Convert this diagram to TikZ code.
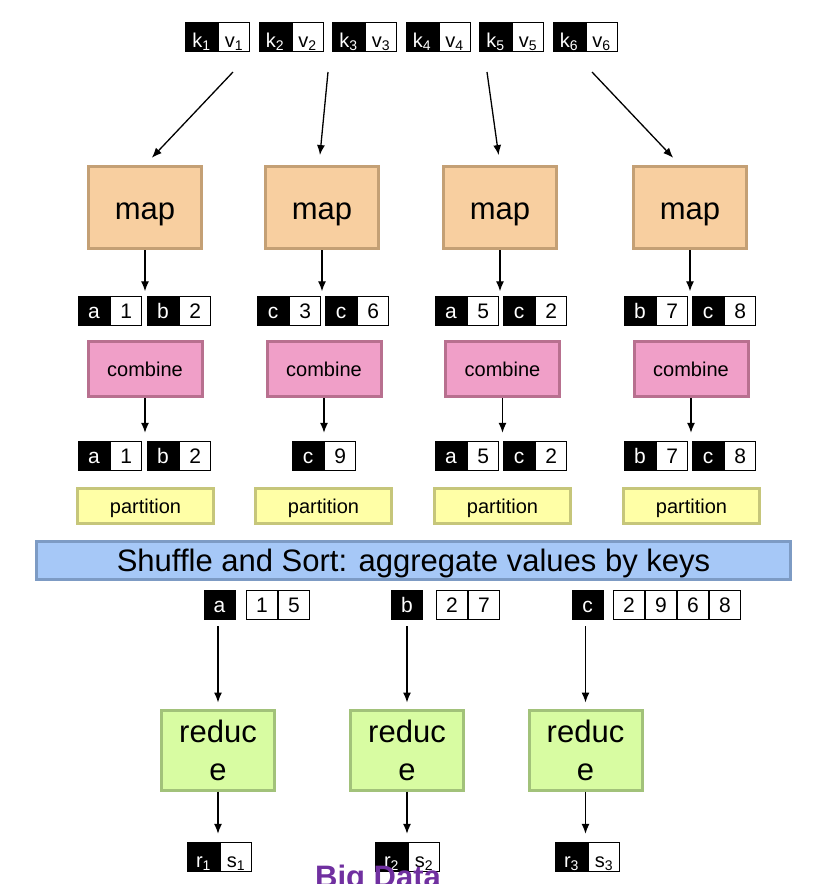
\documentclass[tikz,border=0pt]{standalone}
\usepackage{fontspec}
\setmainfont{Liberation Sans}
\usetikzlibrary{arrows.meta,positioning}
\definecolor{mapfill}{HTML}{F8CFA0}
\definecolor{mapline}{HTML}{C4A075}
\definecolor{combfill}{HTML}{F09FC8}
\definecolor{combline}{HTML}{B8708F}
\definecolor{partfill}{HTML}{FFFFA6}
\definecolor{partline}{HTML}{C6C67A}
\definecolor{shuffill}{HTML}{A6C8F7}
\definecolor{shufline}{HTML}{7D9BC4}
\definecolor{redfill}{HTML}{D8FCA2}
\definecolor{redline}{HTML}{A2C27A}
\definecolor{bigpurple}{HTML}{7030A0}

\begin{document}
\begin{tikzpicture}[x=1pt,y=-1pt,>={Latex[length=10pt,width=8pt]},
  kbox/.style={fill=black,text=white,minimum width=32pt,minimum height=30pt,inner sep=0pt,text height=15pt,text depth=0pt,font=\fontsize{21}{24}\selectfont},
  vbox/.style={draw=black,line width=0.8pt,fill=white,minimum width=31pt,minimum height=29pt,inner sep=0pt,text height=15pt,text depth=0pt,font=\fontsize{21}{24}\selectfont},
  subkv/.style={font=\fontsize{20}{22}\selectfont,text height=20pt},
  stage/.style={draw,line width=3pt,inner sep=0pt,align=center},
  bigtxt/.style={font=\fontsize{31}{36}\selectfont,text height=31pt,text depth=8pt},
  smalltxt/.style={font=\fontsize{20}{24}\selectfont,text height=20pt,text depth=5pt},
  flow/.style={->,line width=1.3pt}]
  \path[use as bounding box,clip] (0,0) rectangle (814,884);
  % ---------- input pairs
  \foreach \i in {1,...,6} {
    \node[kbox,subkv,minimum width=33pt] (k\i) at ({201.5+73.5*(\i-1)},37) {k\textsubscript{\i}};
    \node[vbox,subkv,right=0pt of k\i] (v\i) {v\textsubscript{\i}};
  }
  % ---------- map
  \foreach \x [count=\i] in {145,322,500,690}
    \node[stage,bigtxt,draw=mapline,fill=mapfill,minimum width=113pt,minimum height=82pt] (m\i) at (\x,207.5) {map};
  \foreach \i/\x/\d in {1/233/0,2/328/-3,3/487/0,4/592/-10} {
    \coordinate (s\i) at (\x,72);
    \draw[flow,shorten >=10pt] (s\i) -- ([xshift=\d]m\i.north);
  }
  % ---------- map output
  \foreach \k/\v/\x [count=\i] in {a/1/78,b/2/147,c/3/257,c/6/325,a/5/435,c/2/503,b/7/624,c/8/692} {
    \node[kbox] (ka\i) at (\x+16,310.5) {\k};
    \node[vbox,right=0pt of ka\i] (va\i) {\v};
  }
  \foreach \i/\j in {1/1,2/3,3/5,4/7} \draw[flow,shorten >=4pt] (m\i) -- (m\i |- ka\j.north);
  % ---------- combine
  \foreach \x [count=\i] in {145,324,502.5,691}
    \node[stage,smalltxt,draw=combline,fill=combfill,minimum width=114pt,minimum height=55pt] (c\i) at (\x,369) {combine};
  \foreach \k/\v/\x [count=\i] in {a/1/78,b/2/147,c/9/292,a/5/435,c/2/503,b/7/624,c/8/692} {
    \node[kbox] (kb\i) at (\x+16,456) {\k};
    \node[vbox,right=0pt of kb\i] (vb\i) {\v};
  }
  \foreach \i/\j in {1/1,2/3,3/4,4/6} \draw[flow,shorten >=8pt] (c\i) -- (c\i |- kb\j.north);
  % ---------- partition + shuffle
  \foreach \x [count=\i] in {145.5,323.5,502.5,691.5}
    \node[stage,smalltxt,draw=partline,fill=partfill,minimum width=136pt,minimum height=35pt] (pt\i) at (\x,506) {partition};
  \node[stage,bigtxt,text height=29pt,draw=shufline,fill=shuffill,minimum width=754pt,minimum height=38pt] (shuf) at (413.5,560.5) {Shuffle and Sort: aggregate values by keys};
  % ---------- grouped values
  \foreach \g/\x in {a/219.5,b/407,c/587.5} \node[kbox] (g\g) at (\x,605) {\g};
  \foreach \v/\x [count=\j] in {1/262,5/294} \node[vbox] (ga\j) at (\x,605) {\v};
  \foreach \v/\x [count=\j] in {2/452,7/484} \node[vbox] (gb\j) at (\x,605) {\v};
  \foreach \v/\x [count=\j] in {2/629,9/661,6/693,8/725} \node[vbox] (gc\j) at (\x,605) {\v};
  % ---------- reduce
  \foreach \g/\x [count=\i] in {a/218,b/407,c/585.5} {
    \node[stage,draw=redline,fill=redfill,minimum width=113pt,minimum height=80pt,font=\fontsize{31}{38}\selectfont] (r\i) at (\x,750) {reduc\\e};
    \draw[flow,shorten <=6pt,shorten >=6pt] (r\i |- g\g.south) -- (r\i);
  }
  \foreach \x [count=\i] in {187,375,555} {
    \node[kbox,subkv,minimum width=33pt] (rk\i) at (\x+16.5,857) {r\textsubscript{\i}};
    \node[vbox,subkv,right=0pt of rk\i] (rv\i) {s\textsubscript{\i}};
    \draw[flow,shorten >=8pt] (r\i) -- (r\i |- rk\i.north);
  }
  \node[font=\fontsize{31}{36}\selectfont\bfseries,text=bigpurple,anchor=base] (bd) at (378,887) {Big Data};
\end{tikzpicture}
\end{document}
